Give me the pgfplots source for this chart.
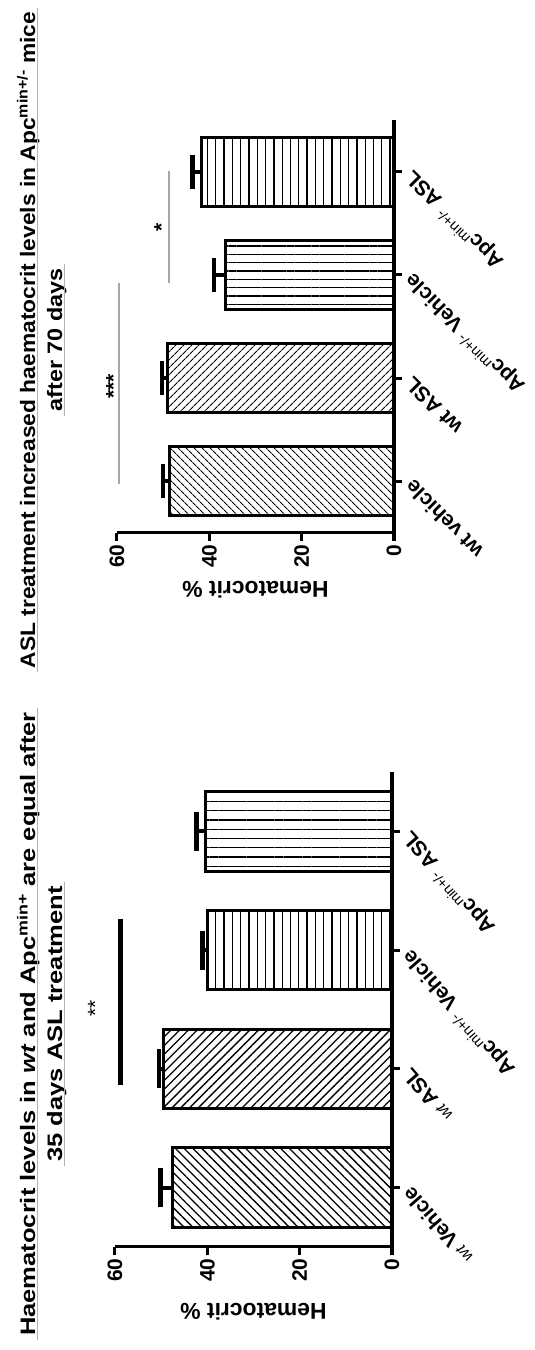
\documentclass[border=0pt]{standalone}
\usepackage{fontspec}
\setmainfont{Liberation Sans}
\usepackage{pgfplots}
\pgfplotsset{compat=1.18}
\usetikzlibrary{patterns.meta,calc}

\newcommand\fs[1]{\fontsize{#1}{#1}\selectfont}

\pgfplotsset{
  hemat/.style={
    scale only axis, width=277bp,
    xmin=0, xmax=60, x dir=reverse,
    ymin=-0.5, ymax=3.5,
    axis x line*=bottom, axis y line*=right,
    axis line style={line width=3bp},
    xtick={0,20,40,60}, ytick={0,1,2,3},
    tick align=outside, major tick length=8bp,
    tick style={line width=3bp, black},
    /pgf/number format/assume math mode=true,
    xticklabel style={rotate=90, anchor=east, font=\bfseries\fs{21}},
    yticklabel shift=4bp,
    xlabel={Hematocrit \%},
    xlabel style={rotate=180, font=\bfseries\fs{23}, anchor=center},
    clip=false,
    bar shift=0pt, bar width=0.67,
  },
  hbar/.style={xbar, draw=black, line width=3bp,
    error bars/.cd, x dir=plus, x explicit,
    error mark=|,
    error bar style={line width=4bp, solid},
    error mark options={line width=4.5bp, mark size=#1},
  },
}

\begin{document}
\begin{tikzpicture}
\path[use as bounding box] (0,0) rectangle (535bp,1350bp);

% ---------- 70 days ----------
\begin{axis}[hemat, height=413bp, at={(255.5bp,1023.5bp)}, anchor=center,
  xlabel style={at={(axis description cs:0.5,-0.138)}},
  yticklabel style={rotate=135, anchor=east, font=\bfseries\fs{21}},
  yticklabels={{wt vehicle},{wt ASL},{Apc\textsuperscript{\mdseries min+/-} Vehicle},{Apc\textsuperscript{\mdseries min+/-} ASL}}]
\addplot[pattern={Lines[angle=-45,distance=6bp,line width=1.3bp]}, hbar=17bp]
  coordinates {(48.7,0) +- (1.3,0)};
\addplot[pattern={Lines[angle=45,distance=6bp,line width=1.3bp]}, hbar=17bp]
  coordinates {(49.1,1) +- (1.1,0)};
\addplot[pattern={Lines[angle=0,distance=8.3bp,line width=1.3bp]}, hbar=17bp]
  coordinates {(36.4,2) +- (2.6,0)};
\addplot[pattern={Lines[angle=90,distance=8.3bp,line width=1.3bp]}, hbar=17bp]
  coordinates {(41.8,3) +- (1.9,0)};
% significance brackets
\addplot[gray!70, line width=1.5bp] coordinates {(59.6,-0.03) (59.6,1.92)};
\addplot[gray!70, line width=1.5bp] coordinates {(48.7,1.92) (48.7,3.01)};
\node[rotate=90, font=\bfseries\fs{21}] at (axis cs:60.8,0.92) {***};
\node[rotate=90, font=\bfseries\fs{21}] at (axis cs:50.4,2.46) {*};
\end{axis}

% ---------- 35 days ----------
\begin{axis}[hemat, height=475bp, at={(253.5bp,340.5bp)}, anchor=center,
  xlabel style={at={(axis description cs:0.5,-0.137)}},
  yticklabel style={rotate=131, anchor=east, font=\bfseries\fs{21}},
  yticklabels={{{\mdseries\itshape\fs{16}wt} Vehicle},{{\mdseries\itshape\fs{16}wt} ASL},{Apc\textsuperscript{\mdseries min+/-} Vehicle},{Apc\textsuperscript{\mdseries min+/-} ASL}}]
\addplot[pattern={Lines[angle=-45,distance=6.2bp,line width=1.3bp]}, hbar=19.5bp]
  coordinates {(47.5,0) +- (2.6,0)};
\addplot[pattern={Lines[angle=45,distance=6.2bp,line width=1.3bp]}, hbar=19.5bp]
  coordinates {(49.5,1) +- (1.0,0)};
\addplot[pattern={Lines[angle=90,distance=8.3bp,line width=1.3bp]}, hbar=19.5bp]
  coordinates {(39.9,2) +- (1.1,0)};
\addplot[pattern={Lines[angle=0,distance=9.3bp,line width=1.3bp]}, hbar=19.5bp]
  coordinates {(40.5,3) +- (1.8,0)};
% significance bracket
\addplot[black, line width=5bp] coordinates {(58.9,0.86) (58.9,2.26)};
\node[rotate=90, font=\fs{21}] at (axis cs:64.3,1.51) {**};
\end{axis}

% ---------- titles ----------
\node[rotate=90, anchor=base, xscale=1.09, font=\bfseries\fs{21}] (ta) at (35bp,1010bp)
  {ASL treatment increased haematocrit levels in Apc\textsuperscript{min+/-} mice};
\node[rotate=90, anchor=base, xscale=1.12, font=\bfseries\fs{21}] (tb) at (62bp,1010bp)
  {after 70 days};
\node[rotate=90, anchor=base, xscale=1.22, font=\bfseries\fs{21}] (tc) at (35bp,326bp)
  {Haematocrit levels in \textit{wt} and Apc\textsuperscript{min+} are equal after};
\node[rotate=90, anchor=base, xscale=1.22, font=\bfseries\fs{21}] (td) at (62bp,326bp)
  {35 days ASL treatment};
\foreach \t in {ta,tb,tc,td}
  \draw[gray!60, line width=1bp] ($(\t.base west)+(2.5bp,0)$) -- ($(\t.base east)+(2.5bp,0)$);
\end{tikzpicture}
\end{document}
